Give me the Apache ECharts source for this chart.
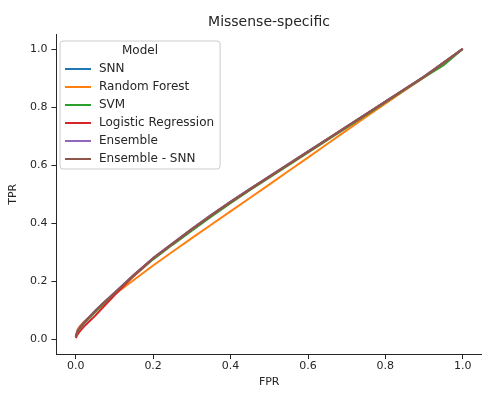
<!DOCTYPE html>
<html>
<head>
<meta charset="utf-8">
<script src="https://cdn.jsdelivr.net/npm/echarts@6/dist/echarts.min.js"></script>
<style>
  html, body { margin: 0; padding: 0; background: #fff; }
  #chart { width: 482px; height: 393px; }
</style>
</head>
<body>
<div id="chart"></div>
<script>
// ROC curves (missense variants) for each model
const fpr = [0, 0.005, 0.01, 0.02, 0.03, 0.05, 0.075, 0.1, 0.15, 0.2, 0.25, 0.3, 0.35, 0.4, 0.45, 0.5, 0.55, 0.6, 0.65, 0.7, 0.75, 0.8, 0.85, 0.9, 0.95, 1.0];

const tprSnn = [0.01, 0.029, 0.04, 0.055, 0.069, 0.097, 0.129, 0.159, 0.221, 0.279, 0.329, 0.379, 0.427, 0.473, 0.517, 0.56, 0.603, 0.646, 0.689, 0.732, 0.775, 0.818, 0.861, 0.904, 0.951, 1.0];
const tprRandomForest = [0.012, 0.035, 0.045, 0.06, 0.072, 0.095, 0.125, 0.155, 0.205, 0.255, 0.302, 0.349, 0.395, 0.441, 0.487, 0.533, 0.58, 0.626, 0.673, 0.72, 0.766, 0.812, 0.857, 0.902, 0.952, 1.0];
const tprSvm = [0.01, 0.028, 0.038, 0.053, 0.067, 0.095, 0.127, 0.158, 0.219, 0.276, 0.326, 0.375, 0.423, 0.469, 0.514, 0.557, 0.6, 0.643, 0.686, 0.729, 0.772, 0.816, 0.859, 0.902, 0.943, 1.0];
const tprLogReg = [0.005, 0.018, 0.027, 0.043, 0.056, 0.082, 0.117, 0.152, 0.219, 0.279, 0.329, 0.379, 0.427, 0.473, 0.517, 0.56, 0.603, 0.646, 0.689, 0.732, 0.775, 0.818, 0.861, 0.904, 0.951, 1.0];
const tprEnsemble = [0.01, 0.031, 0.041, 0.057, 0.071, 0.099, 0.131, 0.161, 0.223, 0.281, 0.331, 0.381, 0.429, 0.475, 0.519, 0.562, 0.605, 0.648, 0.69, 0.733, 0.776, 0.819, 0.862, 0.905, 0.953, 1.0];
const tprEnsembleSnn = [0.01, 0.03, 0.04, 0.056, 0.07, 0.098, 0.13, 0.16, 0.222, 0.28, 0.33, 0.38, 0.428, 0.474, 0.518, 0.561, 0.604, 0.647, 0.69, 0.733, 0.776, 0.819, 0.862, 0.905, 0.952, 1.0];

const modelNames = ['SNN', 'Random Forest', 'SVM', 'Logistic Regression', 'Ensemble', 'Ensemble - SNN'];
const modelTpr = [tprSnn, tprRandomForest, tprSvm, tprLogReg, tprEnsemble, tprEnsembleSnn];
const modelColors = ['#1f77b4', '#ff7f0e', '#2ca02c', '#d62728', '#9467bd', '#8c564b'];

const tickValues = [0, 0.2, 0.4, 0.6, 0.8, 1.0];

const FONT = 'DejaVu Sans';
const INK = '#262626';

const series = modelNames.map((name, i) => ({
  name: name,
  type: 'line',
  data: fpr.map((x, j) => [x, modelTpr[i][j]]),
  showSymbol: false,
  symbol: 'none',
  lineStyle: { width: 2, color: modelColors[i] },
  itemStyle: { color: modelColors[i] },
  z: 2 + i,
  animation: false
}));

function axisCommon() {
  return {
    type: 'value',
    min: -0.05,
    max: 1.05,
    splitLine: { show: false },
    axisLine: { show: true, onZero: false, lineStyle: { color: INK, width: 1 } },
    axisTick: { show: true, inside: false, length: 5, customValues: tickValues, lineStyle: { color: INK, width: 1 } },
    axisLabel: {
      customValues: tickValues,
      formatter: v => v.toFixed(1),
      color: INK,
      fontFamily: FONT,
      fontSize: 11
    },
    nameLocation: 'middle',
    nameTextStyle: { color: INK, fontFamily: FONT, fontSize: 11 }
  };
}

const xAxis = axisCommon();
xAxis.name = 'FPR';
xAxis.nameGap = 22;
xAxis.axisLabel.margin = 7;

const yAxis = axisCommon();
yAxis.name = 'TPR';
yAxis.nameGap = 31;
yAxis.axisLabel.margin = 9;

const chart = echarts.init(document.getElementById('chart'), null, { renderer: 'canvas' });
chart.setOption({
  animation: false,
  backgroundColor: '#ffffff',
  grid: { left: 54.5, top: 34.4, width: 429, height: 321.2, containLabel: false },
  xAxis: xAxis,
  yAxis: yAxis,
  legend: {
    orient: 'vertical',
    left: 60,
    top: 41,
    padding: [21, 6, 3, 5],
    itemGap: 4,
    itemWidth: 26,
    itemHeight: 2,
    icon: 'rect',
    borderColor: '#cccccc',
    borderWidth: 1,
    borderRadius: 3,
    backgroundColor: 'rgba(255,255,255,0.8)',
    textStyle: { color: INK, fontFamily: FONT, fontSize: 12, lineHeight: 14, padding: [0, 0, 0, 3] },
    data: modelNames,
    selectedMode: false
  },
  graphic: [
    {
      type: 'text',
      x: 269,
      y: 22,
      style: { text: 'Missense-specific', fill: INK, font: '14px "DejaVu Sans"', textAlign: 'center', textVerticalAlign: 'middle' },
      z: 100
    },
    {
      type: 'text',
      x: 140,
      y: 51,
      style: { text: 'Model', fill: INK, font: '12px "DejaVu Sans"', textAlign: 'center', textVerticalAlign: 'middle' },
      z: 100
    }
  ],
  series: series
});
</script>
</body>
</html>
